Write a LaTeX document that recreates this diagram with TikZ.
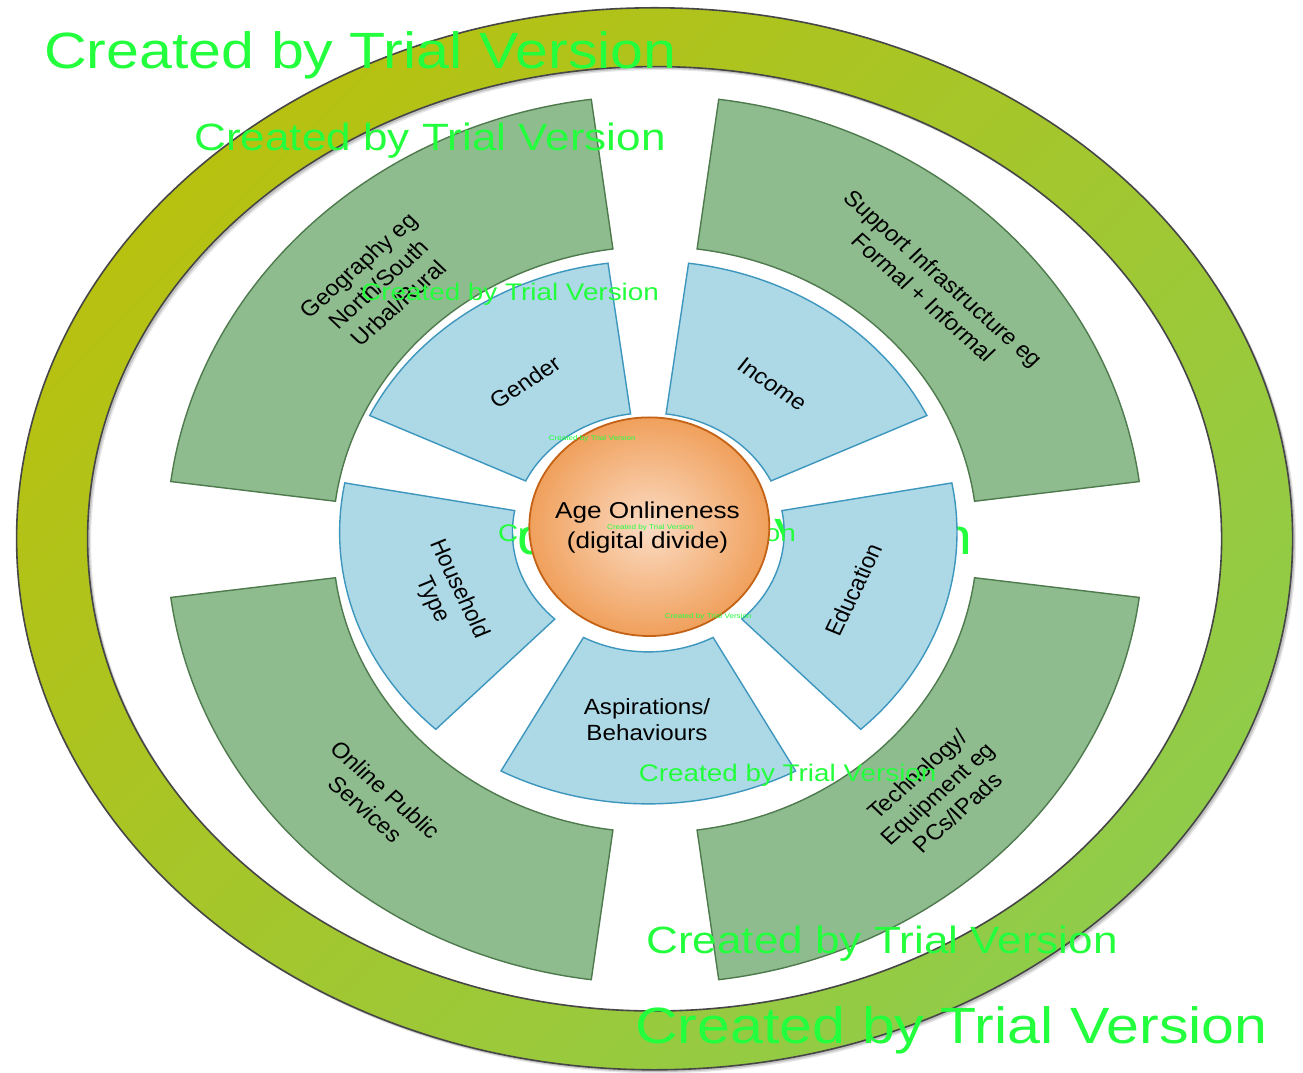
\documentclass[tikz,border=0pt]{standalone}
\usepackage{fontspec}
\setmainfont{Liberation Sans}
\definecolor{wm}{RGB}{35,255,60}
\definecolor{ringA}{RGB}{183,193,16}
\definecolor{ringB}{RGB}{144,204,74}
\definecolor{ringline}{RGB}{70,70,70}
\definecolor{grfill}{RGB}{143,188,143}
\definecolor{grline}{RGB}{78,122,78}
\definecolor{blfill}{RGB}{173,216,230}
\definecolor{blline}{RGB}{60,150,190}
\definecolor{orline}{RGB}{196,98,22}
\definecolor{orout}{RGB}{240,160,92}
\definecolor{orin}{RGB}{251,220,196}
% name, x, y, stretch, angle, style, text
\newcommand\stretchnode[7]{%
  \begin{scope}[shift={(#2,#3)}, xscale=#4]
    \node[transform shape, rotate=#5, #6] (#1) at (0,0) {#7};
  \end{scope}}
% style, start, end, outer, inner
\newcommand\ringsector[5]{%
  \path[#1] (#2:#4) arc[start angle=#2, end angle=#3, radius=#4] -- (#3:#5)
    arc[start angle=#3, end angle=#2, radius=#5] -- cycle;}
\begin{document}
\begin{tikzpicture}[x=1pt,y=1pt,
  grsec/.style={fill=grfill, draw=grline, line width=1.4pt},
  blsec/.style={fill=blfill, draw=blline, line width=1.4pt},
  txt/.style={inner sep=0pt, align=center, text=black, font=\fontsize{22}{26.5}\selectfont},
  ctxt/.style={inner sep=0pt, align=center, text=black, font=\fontsize{23}{30}\selectfont},
  wmk/.style={inner sep=0pt, anchor=base west, text=wm}]
\useasboundingbox (0,0) rectangle (1303,1072);
\fill[white] (0,0) rectangle (1303,1072);
% ring shadow
\foreach \sh/\op in {3.5/0.10, 2.2/0.15} {
  \fill[black, opacity=\op, even odd rule]
    (654.6+\sh,533.2-\sh) ellipse[x radius=638, y radius=531]
    (654.6+\sh,533.2-\sh) ellipse[x radius=567, y radius=472.2];
}
% ring
\path[shading=axis, top color=ringA, bottom color=ringB, shading angle=45, even odd rule]
  (654.6,533.2) ellipse[x radius=638, y radius=531]
  (654.6,533.2) ellipse[x radius=567, y radius=472.2];
\draw[ringline, line width=1.6pt] (654.6,533.2) ellipse[x radius=638, y radius=531];
\draw[ringline, line width=1.6pt] (654.6,533.2) ellipse[x radius=567, y radius=472.2];
% green sectors
\begin{scope}[shift={(655,532.5)}, xscale=1.1]
  \ringsector{grsec}{97.5}{172.5}{444}{293}
  \ringsector{grsec}{7.5}{82.5}{444}{293}
  \ringsector{grsec}{187.5}{262.5}{444}{293}
  \ringsector{grsec}{277.5}{352.5}{444}{293}
\end{scope}
% watermark behind the blue sectors
\stretchnode{w11}{339.5}{517}{1.16}{0}{wmk, font=\fontsize{51}{60}\selectfont}{Created by Trial Version}
% blue sectors
\begin{scope}[shift={(648.3,539.6)}, xscale=1.137]
  \ringsector{blsec}{97.5}{154.5}{271.5}{119.5}
  \ringsector{blsec}{25.5}{82.5}{271.5}{119.5}
  \ringsector{blsec}{-46.5}{10.5}{271.5}{119.5}
  \ringsector{blsec}{241.5}{298.5}{271.5}{119.5}
  \ringsector{blsec}{169.5}{226.5}{271.5}{119.5}
\end{scope}
% watermark behind the centre only
\stretchnode{w10}{498}{530.3}{1.16}{0}{wmk, font=\fontsize{24}{28}\selectfont}{Created by Trial Version}
% centre
\path[shading=radial, inner color=orin, outer color=orout]
  (649.3,545.3) ellipse[x radius=120, y radius=109.3];
\draw[orline, line width=1.8pt] (649.3,545.3) ellipse[x radius=120, y radius=109.3];
\stretchnode{centre}{647.5}{544.5}{1.137}{0}{ctxt}{Age Onlineness\\(digital divide)}
% green texts
\stretchnode{geo}{378.5}{788}{1.09}{44}{txt}{Geography eg\\North/South\\Urbal/Rural}
\stretchnode{sup}{933.3}{784.2}{1.09}{-44}{txt}{Support Infrastructure eg\\Formal + Informal}
\stretchnode{onl}{375.3}{272.5}{1.09}{-44}{txt}{Online Public\\Services}
\stretchnode{tec}{937.3}{278.7}{1.09}{44}{txt}{Technology/\\Equipment eg\\PCs/IPads}
% blue texts
\stretchnode{gen}{525}{689.7}{1.09}{35}{txt}{Gender}
\stretchnode{inc}{772.3}{688}{1.09}{-36}{txt}{Income}
\stretchnode{hou}{445.3}{477.5}{1.09}{-66}{txt}{Household\\Type}
\stretchnode{edu}{853.3}{482}{1.09}{66}{txt}{Education}
\stretchnode{asp}{647}{352.5}{1.1}{0}{txt}{Aspirations/\\Behaviours}
% watermarks on top
\stretchnode{w1}{44}{1003.7}{1.16}{0}{wmk, font=\fontsize{51}{60}\selectfont}{Created by Trial Version}
\stretchnode{w2}{194.2}{921.3}{1.16}{0}{wmk, font=\fontsize{38}{45}\selectfont}{Created by Trial Version}
\stretchnode{w3}{361}{771}{1.16}{0}{wmk, font=\fontsize{24}{28}\selectfont}{Created by Trial Version}
\stretchnode{w4}{548.6}{631.3}{1.16}{0}{wmk, font=\fontsize{7}{8}\selectfont}{Created by Trial Version}
\stretchnode{w5}{606.9}{542.7}{1.16}{0}{wmk, font=\fontsize{7}{8}\selectfont}{Created by Trial Version}
\stretchnode{w6}{664.6}{453.3}{1.16}{0}{wmk, font=\fontsize{7}{8}\selectfont}{Created by Trial Version}
\stretchnode{w7}{638.6}{290.3}{1.16}{0}{wmk, font=\fontsize{24}{28}\selectfont}{Created by Trial Version}
\stretchnode{w8}{646.2}{118.7}{1.16}{0}{wmk, font=\fontsize{38}{45}\selectfont}{Created by Trial Version}
\stretchnode{w9}{635}{28.7}{1.16}{0}{wmk, font=\fontsize{51}{60}\selectfont}{Created by Trial Version}
\end{tikzpicture}
\end{document}
